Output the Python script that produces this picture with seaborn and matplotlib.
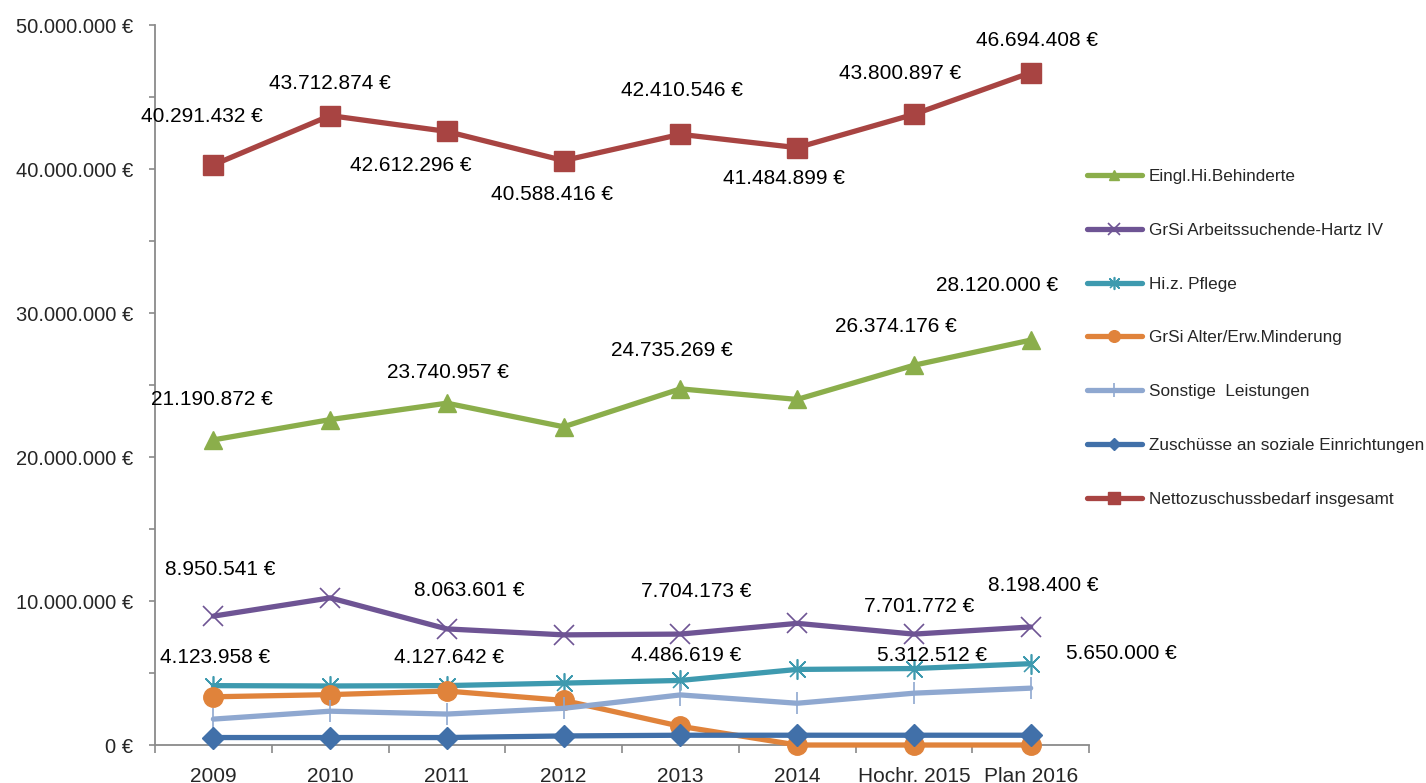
import seaborn as sns
import matplotlib.pyplot as plt
import numpy as np
import pandas as pd

# Kategorien (x-Achse)
jahre = ["2009", "2010", "2011", "2012", "2013", "2014", "Hochr. 2015", "Plan 2016"]

# Werte je Reihe in Euro
eingl_behinderte = [21190872, 22600000, 23740957, 22100000, 24735269, 24000000, 26374176, 28120000]
grsi_hartz = [8950541, 10220000, 8063601, 7650000, 7704173, 8450000, 7701772, 8198400]
hilfe_pflege = [4123958, 4100000, 4127642, 4300000, 4486619, 5250000, 5312512, 5650000]
grsi_alter = [3350000, 3500000, 3750000, 3100000, 1300000, 0, 0, 0]
sonstige = [1800000, 2350000, 2150000, 2550000, 3480000, 2900000, 3600000, 3950000]
zuschuesse = [520000, 520000, 520000, 630000, 680000, 680000, 680000, 680000]
netto = [40291432, 43712874, 42612296, 40588416, 42410546, 41484899, 43800897, 46694408]

namen = [
    "Eingl.Hi.Behinderte",
    "GrSi Arbeitssuchende-Hartz IV",
    "Hi.z. Pflege",
    "GrSi Alter/Erw.Minderung",
    "Sonstige  Leistungen",
    "Zuschüsse an soziale Einrichtungen",
    "Nettozuschussbedarf insgesamt",
]
reihen = [eingl_behinderte, grsi_hartz, hilfe_pflege, grsi_alter, sonstige, zuschuesse, netto]

# welche Punkte beschriftet sind
beschriftet = {
    0: [0, 2, 4, 6, 7],
    1: [0, 2, 4, 6, 7],
    2: [0, 2, 4, 6, 7],
    6: [0, 1, 2, 3, 4, 5, 6, 7],
}

# Sternchen-Marker wie in Excel: X plus senkrechter Strich
stern = [(-1, -1), (1, 1), (0, 0), (-1, 1), (1, -1), (0, 0), (0, 1.3), (0, -1.3), (0, 0)]

# Stil je Reihe
farben = ["#8BAE4B", "#6E5494", "#3E9AAF", "#E0833B", "#8FA8D0", "#4170A9", "#A84442"]
marker = ["^", "x", stern, "o", "|", "D", "s"]
marker_groesse = [13, 15, 14, 14, 16, 11, 14]
marker_rand = [1, 1.2, 1.2, 1, 1.2, 1, 1]

# Versatz der Beschriftungen in Pixeln (x, y)
versatz = {
    0: [(-2, 40), (1, 31), (-9, 38), (-18, 39), (-34, 55)],
    1: [(7, 47), (22, 38), (16, 43), (5, 28), (13, 41)],
    2: [(2, 28), (2, 28), (6, 25), (18, 13), (91, 10)],
    6: [(-12, 48), (0, 32), (-36, -34), (-12, -34), (2, 44), (-13, -31), (-14, 41), (6, 32)],
}

sns.set_theme(style="white")
plt.rcParams["font.family"] = ["Liberation Sans", "DejaVu Sans"]


def euro(v):
    return f"{v:,.0f}".replace(",", ".") + " €"


fig = plt.figure(figsize=(14.26, 7.83), dpi=100)
ax = fig.add_axes([0.1087, 0.0485, 0.655, 0.9195])

pos = np.arange(len(jahre))
for i, (name, werte) in enumerate(zip(namen, reihen)):
    df = pd.DataFrame({"pos": pos, "wert": werte})
    sns.lineplot(
        data=df, x="pos", y="wert", ax=ax,
        color=farben[i], linewidth=3.8,
        marker=marker[i], markersize=marker_groesse[i],
        markeredgecolor=farben[i], markerfacecolor=farben[i],
        markeredgewidth=marker_rand[i], label=name, clip_on=False,
    )

for i, idx in beschriftet.items():
    for k, j in enumerate(idx):
        dx, dy = versatz[i][k]
        ax.annotate(
            euro(reihen[i][j]), (pos[j], reihen[i][j]),
            xytext=(dx, dy), textcoords="offset pixels",
            ha="center", va="center", fontsize=15, color="black",
        )

ax.set_xlim(-0.5, len(jahre) - 0.5)
ax.set_ylim(0, 50000000)
ax.set_xticks(pos)
ax.set_xticklabels(jahre, fontsize=15)
ax.set_xticks(np.arange(len(jahre) + 1) - 0.5, minor=True)
ax.set_yticks(np.arange(0, 50000001, 10000000))
ax.set_yticklabels([euro(v) for v in np.arange(0, 50000001, 10000000)], fontsize=14.5)
ax.set_yticks(np.arange(5000000, 50000000, 10000000), minor=True)
ax.set_xlabel("")
ax.set_ylabel("")

ax.tick_params(axis="x", which="major", length=0, pad=15.5)
ax.tick_params(axis="x", which="minor", length=6, width=1.2, color="#8a8a8a", direction="out", bottom=True)
ax.tick_params(axis="y", which="both", length=4, width=1.2, color="#8a8a8a", direction="out", left=True, pad=12)

for s in ["top", "right"]:
    ax.spines[s].set_visible(False)
for s in ["left", "bottom"]:
    ax.spines[s].set_color("#8a8a8a")
    ax.spines[s].set_linewidth(1.3)
    ax.spines[s].set_zorder(1)

handles, labels = ax.get_legend_handles_labels()
ax.legend(
    handles, labels, loc="upper left", bbox_to_anchor=(0.762, 0.784),
    bbox_transform=fig.transFigure, frameon=False, fontsize=12.3,
    handlelength=3.25, handletextpad=0.4, labelspacing=2.27,
    borderpad=0, borderaxespad=0, markerscale=0.6,
)

fig.savefig("out.png", dpi=100)
